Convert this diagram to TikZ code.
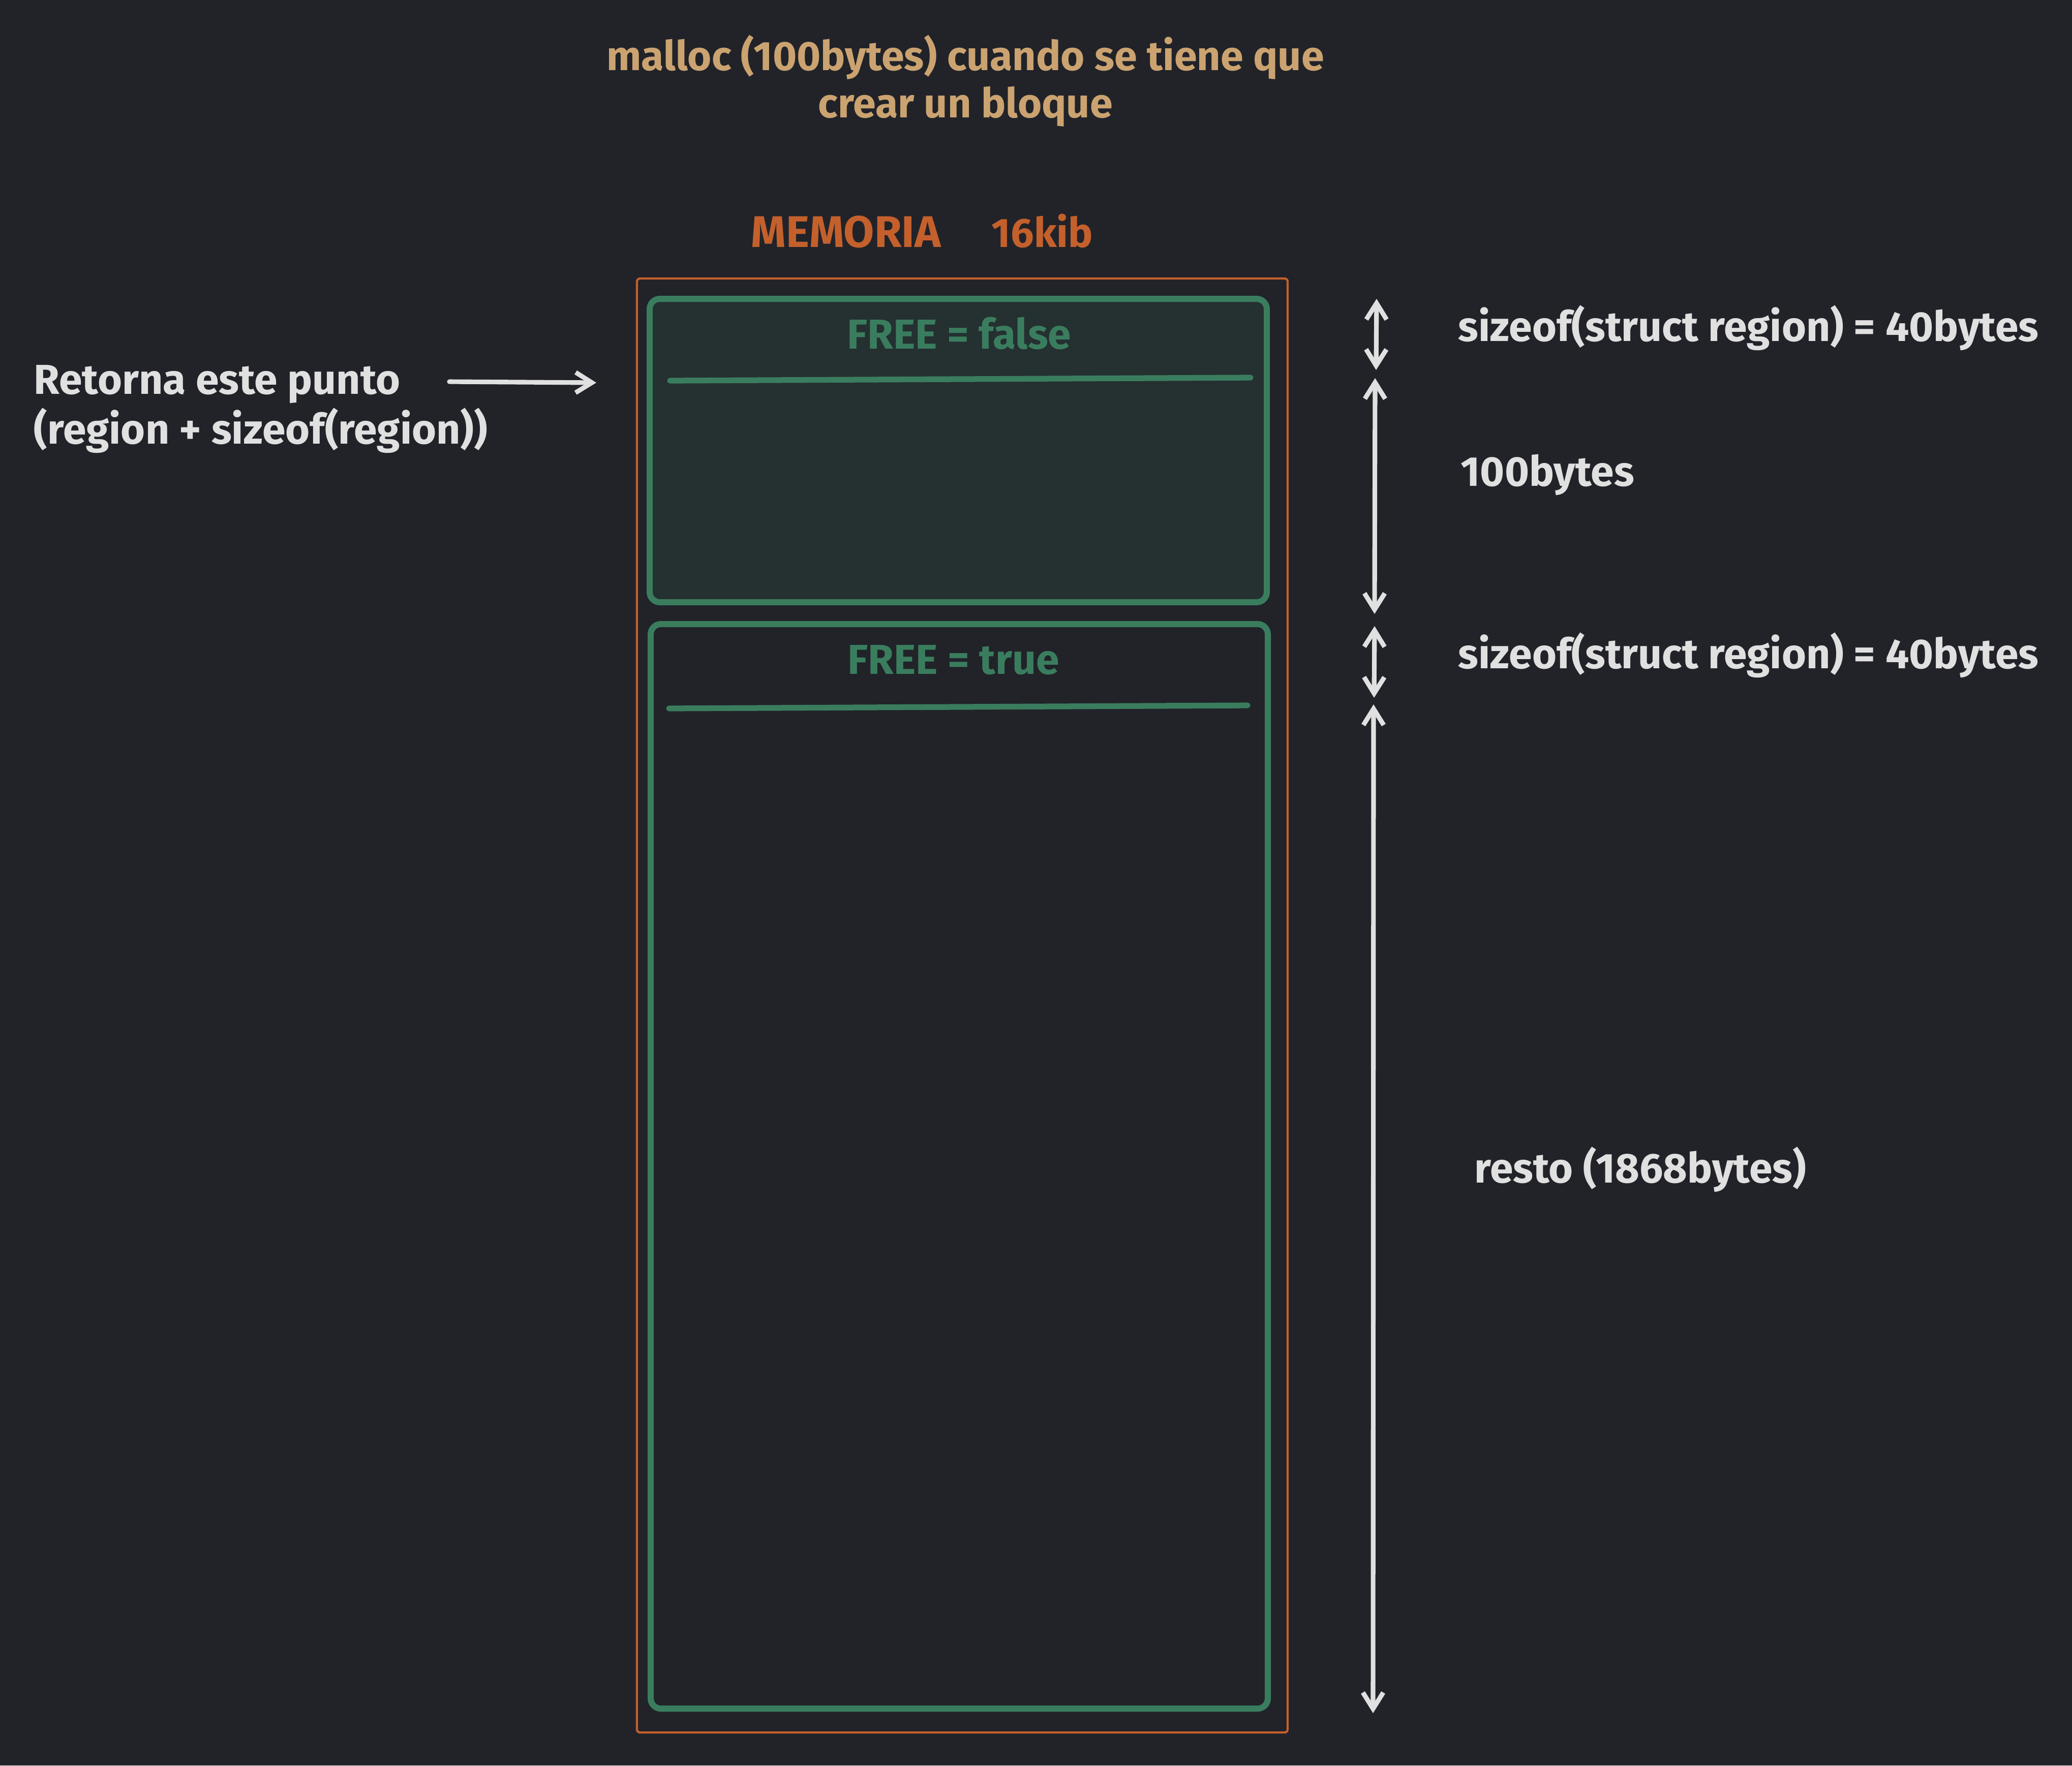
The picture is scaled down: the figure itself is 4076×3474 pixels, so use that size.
\documentclass[tikz,border=0pt]{standalone}
\usepackage{fontspec}
\setmainfont{Fira Sans}
\usetikzlibrary{arrows.meta}
\definecolor{bgc}{HTML}{212329}
\definecolor{fillc}{HTML}{253031}
\definecolor{greenc}{HTML}{3A7D5E}
\definecolor{orangec}{HTML}{C4602C}
\definecolor{tanc}{HTML}{CBA370}
\definecolor{whitec}{HTML}{E0E0E0}
\tikzset{
  lbl/.style={inner sep=0pt, font=\fontsize{23.4}{28}\selectfont\bfseries},
  wlbl/.style={lbl, text=whitec, anchor=base west},
  greenbox/.style={draw=greenc, line width=3.4pt, rounded corners=0.2cm},
  sepline/.style={draw=greenc, line width=3.2pt, line cap=round},
  warrow/.style={draw=whitec, line width=2.6pt, line cap=round,
    arrows={Straight Barb[length=0.32cm,width=0.4cm,line width=2.6pt]-Straight Barb[length=0.32cm,width=0.4cm,line width=2.6pt]}},
  sarrow/.style={draw=whitec, line width=2.6pt, line cap=round,
    -{Straight Barb[length=0.32cm,width=0.4cm,line width=2.6pt]}}
}
\begin{document}
\begin{tikzpicture}[x=0.01cm,y=-0.01cm]
\fill[bgc] (0,0) rectangle (4076,3474);
\useasboundingbox (0,0) rectangle (4076,3474);

% title
\node[lbl, text=tanc, anchor=base, font=\fontsize{23}{28}\selectfont\bfseries] (t1) at (1899,138) {malloc (100bytes) cuando se tiene que};
\node[lbl, text=tanc, anchor=base, font=\fontsize{23}{28}\selectfont\bfseries] (t2) at (1899,231) {crear un bloque};
\node[lbl, text=orangec, anchor=base west] (mem) at (1477,486) {{\fontsize{24.8}{30}\selectfont MEMORIA}\hspace{1.0cm}{\fontsize{23}{28}\selectfont 16kib}};

% outer memory rectangle
\coordinate (memTL) at (1253,548);
\coordinate (memBR) at (2533,3409);
\draw[orangec, line width=1.2pt, rounded corners=0.06cm] (memTL) rectangle (memBR);

% block 1 (allocated)
\coordinate (b1TL) at (1278,588);
\coordinate (b1BR) at (2492,1185);
\filldraw[greenbox, fill=fillc] (b1TL) rectangle (b1BR);
\coordinate (s1L) at (1318,749);
\coordinate (s1R) at (2460,743);
\draw[sepline] (s1L) -- (s1R);
\node[lbl, text=greenc, anchor=base] (f1) at (1887,686) {FREE = false};

% block 2 (free)
\coordinate (b2TL) at (1280,1228);
\coordinate (b2BR) at (2494,3362);
\draw[greenbox] (b2TL) rectangle (b2BR);
\coordinate (s2L) at (1316,1394);
\coordinate (s2R) at (2454,1388);
\draw[sepline] (s2L) -- (s2R);
\node[lbl, text=greenc, anchor=base] (f2) at (1876,1326) {FREE = true};

% left annotation
\node[wlbl] (r1) at (66,775) {Retorna este punto};
\node[wlbl] (r2) at (66,873) {(region + sizeof(region))};
\coordinate (ra1) at (884,751);
\coordinate (ra2) at (1173,753);
\draw[sarrow] (ra1) -- (ra2);

% right dimension arrows
\coordinate (a1t) at (2708,588);
\coordinate (a1b) at (2707,728);
\coordinate (a2t) at (2705,744);
\coordinate (a2b) at (2704,1208);
\coordinate (a3t) at (2704,1232);
\coordinate (a3b) at (2703,1373);
\coordinate (a4t) at (2702,1386);
\coordinate (a4b) at (2701,3371);
\draw[warrow] (a1t) -- (a1b);
\draw[warrow] (a2t) -- (a2b);
\draw[warrow] (a3t) -- (a3b);
\draw[warrow] (a4t) -- (a4b);

% right labels
\node[wlbl] (l1) at (2868,671) {sizeof(struct region) = 40bytes};
\node[wlbl] (l2) at (2873,956) {100bytes};
\node[wlbl] (l3) at (2868,1315) {sizeof(struct region) = 40bytes};
\node[wlbl] (l4) at (2900,2327) {resto (1868bytes)};
\end{tikzpicture}
\end{document}
